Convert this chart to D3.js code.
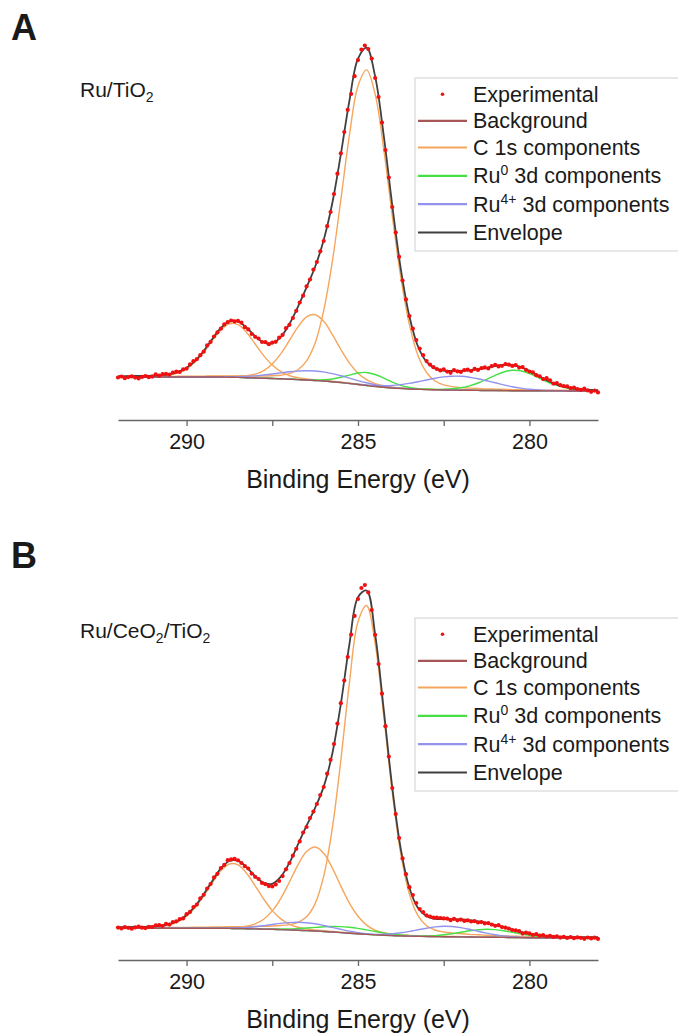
<!DOCTYPE html>
<html><head><meta charset="utf-8">
<script src="https://cdn.jsdelivr.net/npm/d3@7"></script>
<style>
body{margin:0;background:#fff}
svg{display:block}
text{font-family:"Liberation Sans",Arial,sans-serif;fill:#1a1a1a}
</style>
</head><body>
<svg id="chart" width="678" height="1036"></svg>
<script>
// ---------- DATA ----------
// Binding-energy grid (eV) on which the fitted curves are sampled
const gridE = [292,291.75,291.5,291.25,291,290.75,290.5,290.25,290,289.75,289.5,289.25,289,288.75,288.5,288.25,288,287.75,287.5,287.25,287,286.75,286.5,286.25,286,285.75,285.5,285.25,285,284.75,284.5,284.25,284,283.75,283.5,283.25,283,282.75,282.5,282.25,282,281.75,281.5,281.25,281,280.75,280.5,280.25,280,279.75,279.5,279.25,279,278.75,278.5,278.25,278];
const xTicks = [290, 287.5, 285, 282.5, 280];
const xTickLabels = ["290", "", "285", "", "280"];
const legendLabels = ["Experimental","Background","C 1s components","Ru0 3d components","Ru4+ 3d components","Envelope"];

// ---- Panel A : Ru/TiO2 (intensity, arb. units) ----
const bgA = [23,23,23,23,23,23,23,23,23,23,23,23,23,22.8,22.6,22.3,22.0,21.8,21.5,21.2,20.8,20.4,20.0,19.5,19.0,18.3,17.5,16.5,15.5,14.5,13.5,12.7,12.0,11.5,11.0,10.7,10.4,10.2,10.0,9.9,9.8,9.7,9.6,9.5,9.5,9.4,9.3,9.3,9.2,9.2,9.1,9.1,9.1,9.0,9.0,9.0,9.0];
const c1sA1 = [.3,.3,.4,.5,.7,1.1,2.0,4.1,8.2,15.0,24.7,36.4,47.1,53.5,52.7,45.2,34.0,22.6,13.4,7.2,3.6,1.8,1.0,.6,.5,.4,.3,.3,.3,.2,.2,.2,.2,.1,.1,.1,.1,.1,.1,.1,.1,.1,.1,.1,.1,0,0,0,0,0,0,0,0,0,0,0,0];
const c1sA2 = [.1,.1,.2,.2,.2,.2,.2,.3,.3,.3,.4,.5,.6,.7,1.1,1.9,3.8,7.6,14.5,25.1,38.7,52.7,63.1,65.8,59.7,47.3,33.0,20.4,11.3,5.8,2.9,1.5,.9,.6,.5,.4,.4,.3,.3,.2,.2,.2,.2,.2,.1,.1,.1,.1,.1,.1,.1,.1,.1,.1,.1,.1,.1];
const c1sA3 = [.4,.4,.5,.5,.5,.6,.6,.7,.8,.8,.9,1.0,1.1,1.3,1.5,1.7,1.9,2.2,2.7,3.6,5.5,9.8,19.1,37.4,70.6,119.9,182.9,248.3,298.5,315.6,292.3,238.3,172.2,110.9,64.4,33.7,17.1,8.8,5.1,3.5,2.6,2.2,1.9,1.6,1.4,1.3,1.1,1.0,.9,.8,.7,.7,.6,.6,.5,.5,.5];
const ru0A32 = [0,0,0,0,0,0,0,0,0,0,0,0,0,0,0,0,0,.1,.1,.1,.1,.2,.3,.5,1.2,2.7,5.2,8.4,11.5,13.0,12.0,9.2,5.9,3.2,1.5,.7,.3,.2,.1,.1,.1,0,0,0,0,0,0,0,0,0,0,0,0,0,0,0,0];
const ru0A52 = [0,0,0,0,0,0,0,0,0,0,0,0,0,0,0,0,0,0,0,0,0,0,0,0,0,0,0,0,0,0,.1,.1,.1,.1,.2,.2,.3,.4,.7,1.3,2.5,4.4,7.4,11.1,15.2,18.6,20.4,19.9,17.3,13.4,9.4,6.0,3.5,1.9,1.0,.5,.3];
const ru4A32 = [0,0,0,0,0,0,0,0,0,0,0,.1,.2,.4,.8,1.3,2.1,3.2,4.5,5.9,7.4,8.5,9.3,9.5,9.1,8.1,6.8,5.3,3.9,2.7,1.7,1.0,.6,.3,.2,.1,0,0,0,0,0,0,0,0,0,0,0,0,0,0,0,0,0,0,0,0,0];
const ru4A52 = [0,0,0,0,0,0,0,0,0,0,0,0,0,0,0,0,0,0,0,0,0,0,0,0,0,0,.1,.1,.3,.5,.9,1.6,2.6,3.9,5.6,7.6,9.6,11.6,13.1,13.9,13.9,13.1,11.6,9.7,7.7,5.7,4.0,2.6,1.6,.9,.5,.3,.1,.1,0,0,0];
// experimental points, 292.0 -> 278.0 eV in 0.1 eV steps
const expA = [
22.5,23.5,21.8,22.9,23.6,22.4,21.6,23.1,24.0,22.8,
23.4,25.6,24.3,25.8,26.2,25.4,27.5,28.3,28.0,30.6,
31.4,35.6,38.8,40.9,44.8,48.3,54.6,58.1,63.5,67.6,
71.3,75.6,77.9,79.5,78.6,79.1,77.3,72.8,70.6,66.0,
63.2,61.5,58.0,57.9,55.8,57.4,58.2,62.3,65.1,71.8,
75.2,82.0,89.2,97.5,104.3,113.6,120.5,130.4,138.0,148.7,
159.0,173.8,188.0,206.0,226.3,246.7,268.0,290.2,306.0,323.8,
339.9,350.4,354.5,351.0,341.5,322.0,303.0,277.5,250.0,222.4,
193.0,167.5,143.2,119.5,100.6,84.0,71.3,60.0,51.5,44.8,
38.9,35.4,32.8,31.0,29.6,30.6,28.4,27.2,29.8,28.7,
28.1,29.9,30.3,29.0,31.2,30.1,31.8,32.6,31.5,33.9,
35.2,33.6,34.2,35.9,35.3,34.1,34.8,32.4,32.9,30.2,
28.5,27.6,24.8,23.7,20.9,21.8,19.7,16.4,17.0,14.8,
14.0,13.6,11.8,12.4,11.0,10.2,11.3,9.6,8.2,9.4,
7.6];

// ---- Panel B : Ru/CeO2/TiO2 ----
const bgB = [11.7,11.7,11.7,11.7,11.7,11.7,11.7,11.7,11.7,11.7,11.7,11.7,11.7,11.6,11.5,11.3,11.1,10.9,10.7,10.4,10.1,9.8,9.4,9.0,8.5,8.0,7.4,6.8,6.2,5.6,5.1,4.7,4.4,4.1,3.9,3.7,3.5,3.4,3.3,3.2,3.1,3.0,2.9,2.8,2.7,2.6,2.5,2.4,2.3,2.2,2.2,2.1,2.1,2.0,2.0,2.0,2.0];
const c1sB1 = [.4,.5,.6,.7,1.0,1.8,3.3,6.4,12.0,20.7,32.5,45.4,57.6,64.4,63.6,55.5,43.1,30.0,18.7,10.7,5.6,2.9,1.6,1.0,.7,.5,.4,.4,.3,.3,.3,.2,.2,.2,.2,.1,.1,.1,.1,.1,.1,.1,.1,.1,.1,.1,.1,.1,.1,.1,.1,.1,.1,.1,.1,.1,.1];
const c1sB2 = [.2,.2,.2,.2,.2,.3,.3,.3,.4,.4,.5,.6,.7,1.0,1.5,2.6,5.0,9.9,18.4,31.3,47.9,65.4,79.0,84.0,78.2,64.1,46.5,30.1,17.5,9.3,4.7,2.5,1.4,.9,.7,.6,.5,.4,.4,.3,.3,.3,.2,.2,.2,.2,.2,.2,.2,.1,.1,.1,.1,.1,.1,.1,.1];
const c1sB3 = [.5,.5,.6,.6,.7,.7,.8,.9,.9,1.0,1.1,1.3,1.4,1.6,1.8,2.1,2.4,2.8,3.3,4.1,5.3,7.9,13.8,27.4,55.3,103.6,172.6,250.5,312.1,328.9,291.4,219.6,143.0,81.4,41.9,20.7,10.8,6.6,4.7,3.7,3.1,2.6,2.3,2.0,1.7,1.5,1.4,1.2,1.1,1.0,.9,.8,.8,.7,.6,.6,.6];
const ru0B32 = [0,0,0,0,0,0,0,0,0,0,0,0,0,0,0,0,0,.1,.3,.6,1.0,1.7,2.6,3.6,4.7,5.5,6.0,5.9,5.4,4.5,3.4,2.4,1.5,.9,.5,.2,.1,0,0,0,0,0,0,0,0,0,0,0,0,0,0,0,0,0,0,0,0];
const ru0B52 = [0,0,0,0,0,0,0,0,0,0,0,0,0,0,0,0,0,0,0,0,0,0,0,0,0,0,0,0,0,0,0,0,0,0,.1,.2,.5,1.0,1.9,3.1,4.6,6.2,7.4,8.0,7.7,6.7,5.3,3.7,2.3,1.3,.7,.3,.1,0,0,0,0];
const ru4B32 = [0,0,0,0,0,0,0,0,0,0,0,.1,.2,.4,.7,1.3,2.2,3.4,4.8,6.2,7.3,7.9,7.9,7.2,6.0,4.6,3.3,2.1,1.2,.7,.3,.2,.1,0,0,0,0,0,0,0,0,0,0,0,0,0,0,0,0,0,0,0,0,0,0,0,0];
const ru4B52 = [0,0,0,0,0,0,0,0,0,0,0,0,0,0,0,0,0,0,0,0,0,0,0,0,0,0,0,0,.1,.2,.5,1.0,1.9,3.1,4.7,6.5,8.3,9.7,10.5,10.3,9.3,7.7,5.8,4.1,2.6,1.5,.8,.4,.2,.1,0,0,0,0,0,0,0];
const expB = [
12.4,11.6,12.9,12.2,11.3,12.6,13.5,12.3,11.9,13.2,
13.0,14.6,14.8,14.0,16.2,15.4,17.9,18.7,20.9,21.6,
25.8,28.1,32.9,35.4,41.6,45.2,51.5,56.0,62.6,66.2,
72.0,75.1,79.8,80.6,81.2,79.7,77.0,73.8,71.5,66.4,
63.2,61.0,57.1,55.8,53.9,53.5,55.6,59.0,63.9,70.7,
77.0,84.3,91.2,98.6,107.5,113.0,121.9,128.4,136.0,144.9,
153.0,166.3,180.2,196.0,216.4,236.8,259.5,283.0,305.4,324.1,
341.0,352.0,355.0,347.6,329.9,305.2,276.0,246.3,213.8,183.5,
152.0,126.0,102.0,81.6,65.8,52.8,45.0,37.0,31.0,27.8,
24.6,23.5,22.3,22.4,22.0,21.6,21.4,19.8,21.2,19.7,
20.4,19.0,19.6,18.5,18.8,17.5,17.9,16.6,16.9,15.4,
14.2,14.8,12.9,12.3,11.4,10.0,9.6,8.8,6.4,7.3,
6.6,5.2,5.8,4.3,4.9,3.5,4.2,3.1,3.7,2.4,
3.2,2.1,3.0,1.8,2.6,2.2,1.2,2.5,1.6,2.3,
1.1];

// ---------- STYLE ----------
const COL = {exp:"#f01010", bg:"#a65656", c1s:"#f6a65c", ru0:"#44e044", ru4:"#9393ee", env:"#404040"};

const panels = [
  {letter:"A", letterY:40, sample:[["Ru/TiO",""],["2","sub"]], sampleY:102, top:0,
   bg:bgA, c1s:[c1sA1,c1sA2,c1sA3], ru0:[ru0A32,ru0A52], ru4:[ru4A32,ru4A52], exp:expA},
  {letter:"B", letterY:568, sample:[["Ru/CeO",""],["2","sub"],["/TiO",""],["2","sub"]], sampleY:643, top:540,
   bg:bgB, c1s:[c1sB1,c1sB2,c1sB3], ru0:[ru0B32,ru0B52], ru4:[ru4B32,ru4B52], exp:expB}
];

const svg = d3.select("#chart");
svg.append("rect").attr("width",678).attr("height",1036).attr("fill","#fff");

const x = d3.scaleLinear().domain([292, 278]).range([118, 598]);
const expE = d3.range(expA.length).map(i => +(292 - 0.1 * i).toFixed(2));

panels.forEach(p => {
  const g = svg.append("g").attr("transform", `translate(0,${p.top})`);
  const y = d3.scaleLinear().domain([0, 360]).range([400, 40]);
  const line = d3.line().x(d => x(d[0])).y(d => y(d[1])).curve(d3.curveCatmullRom.alpha(0.5));

  const abs = comp => gridE.map((e, i) => [e, p.bg[i] + comp[i]]);
  const allComps = [...p.c1s, ...p.ru0, ...p.ru4];
  const env = gridE.map((e, i) => [e, p.bg[i] + d3.sum(allComps, c => c[i])]);

  const plot = g.append("g");
  p.c1s.forEach(c => plot.append("path").attr("d", line(abs(c))).attr("fill","none").attr("stroke",COL.c1s).attr("stroke-width",1.4));
  p.ru0.forEach(c => plot.append("path").attr("d", line(abs(c))).attr("fill","none").attr("stroke",COL.ru0).attr("stroke-width",1.4));
  p.ru4.forEach(c => plot.append("path").attr("d", line(abs(c))).attr("fill","none").attr("stroke",COL.ru4).attr("stroke-width",1.4));
  plot.append("path").attr("d", line(gridE.map((e,i)=>[e,p.bg[i]]))).attr("fill","none").attr("stroke",COL.bg).attr("stroke-width",1.4);
  plot.append("path").attr("d", line(env)).attr("fill","none").attr("stroke",COL.env).attr("stroke-width",1.8);
  plot.selectAll("circle.exp").data(p.exp).join("circle").attr("class","exp")
    .attr("cx",(d,i)=>x(expE[i])).attr("cy",d=>y(d)).attr("r",2.1).attr("fill",COL.exp);

  // axis
  const axis = d3.axisBottom(x).tickValues(xTicks).tickFormat((d,i)=>xTickLabels[i]).tickSize(6).tickSizeOuter(0).tickPadding(8);
  const ag = g.append("g").attr("transform","translate(0,420)").call(axis);
  ag.select(".domain").attr("stroke","#666").attr("stroke-width",1.3);
  ag.selectAll(".tick line").attr("stroke","#666").attr("stroke-width",1.3);
  ag.selectAll(".tick text").attr("font-size",21.5).attr("font-family",'"Liberation Sans",Arial,sans-serif').attr("fill","#1a1a1a");
  g.append("text").attr("x",358).attr("y",488).attr("text-anchor","middle").attr("font-size",25).text("Binding Energy (eV)");

  // panel letter
  g.append("text").attr("x",11).attr("y",p.letterY - p.top).attr("font-size",36).attr("font-weight","bold").attr("fill","#000").text(p.letter);

  // sample label
  const st = g.append("text").attr("x",80).attr("y",p.sampleY - p.top).attr("font-size",21);
  p.sample.forEach(([t,kind]) => {
    if (kind === "sub") st.append("tspan").attr("font-size",14).attr("dy",5).text(t);
    else st.append("tspan").attr("dy", st.selectAll("tspan").size() ? -5 : 0).text(t);
  });

  // legend
  const lg = g.append("g");
  lg.append("rect").attr("x",415).attr("y",78).attr("width",270).attr("height",173).attr("fill","#fff").attr("stroke","#d0d0d0").attr("stroke-width",1);
  const rowsBase = [101.7,128.3,155,183.3,211.7,240];
  const keys = ["exp","bg","c1s","ru0","ru4","env"];
  keys.forEach((k,i) => {
    const cy = rowsBase[i] - 7.5;
    if (k === "exp") lg.append("circle").attr("cx",442.5).attr("cy",cy).attr("r",1.8).attr("fill",COL.exp);
    else lg.append("line").attr("x1",418).attr("x2",467).attr("y1",cy).attr("y2",cy).attr("stroke",COL[k]).attr("stroke-width",2.2);
    const t = lg.append("text").attr("x",473).attr("y",rowsBase[i]).attr("font-size",21.5);
    const lab = legendLabels[i];
    if (k === "ru0" || k === "ru4") {
      const sup = k === "ru0" ? "0" : "4+";
      t.append("tspan").text("Ru");
      t.append("tspan").attr("font-size",14).attr("dy",-8).text(sup);
      t.append("tspan").attr("dy",8).text(lab.replace("Ru"+sup, ""));
    } else t.text(lab);
  });
});
</script>
</body></html>
